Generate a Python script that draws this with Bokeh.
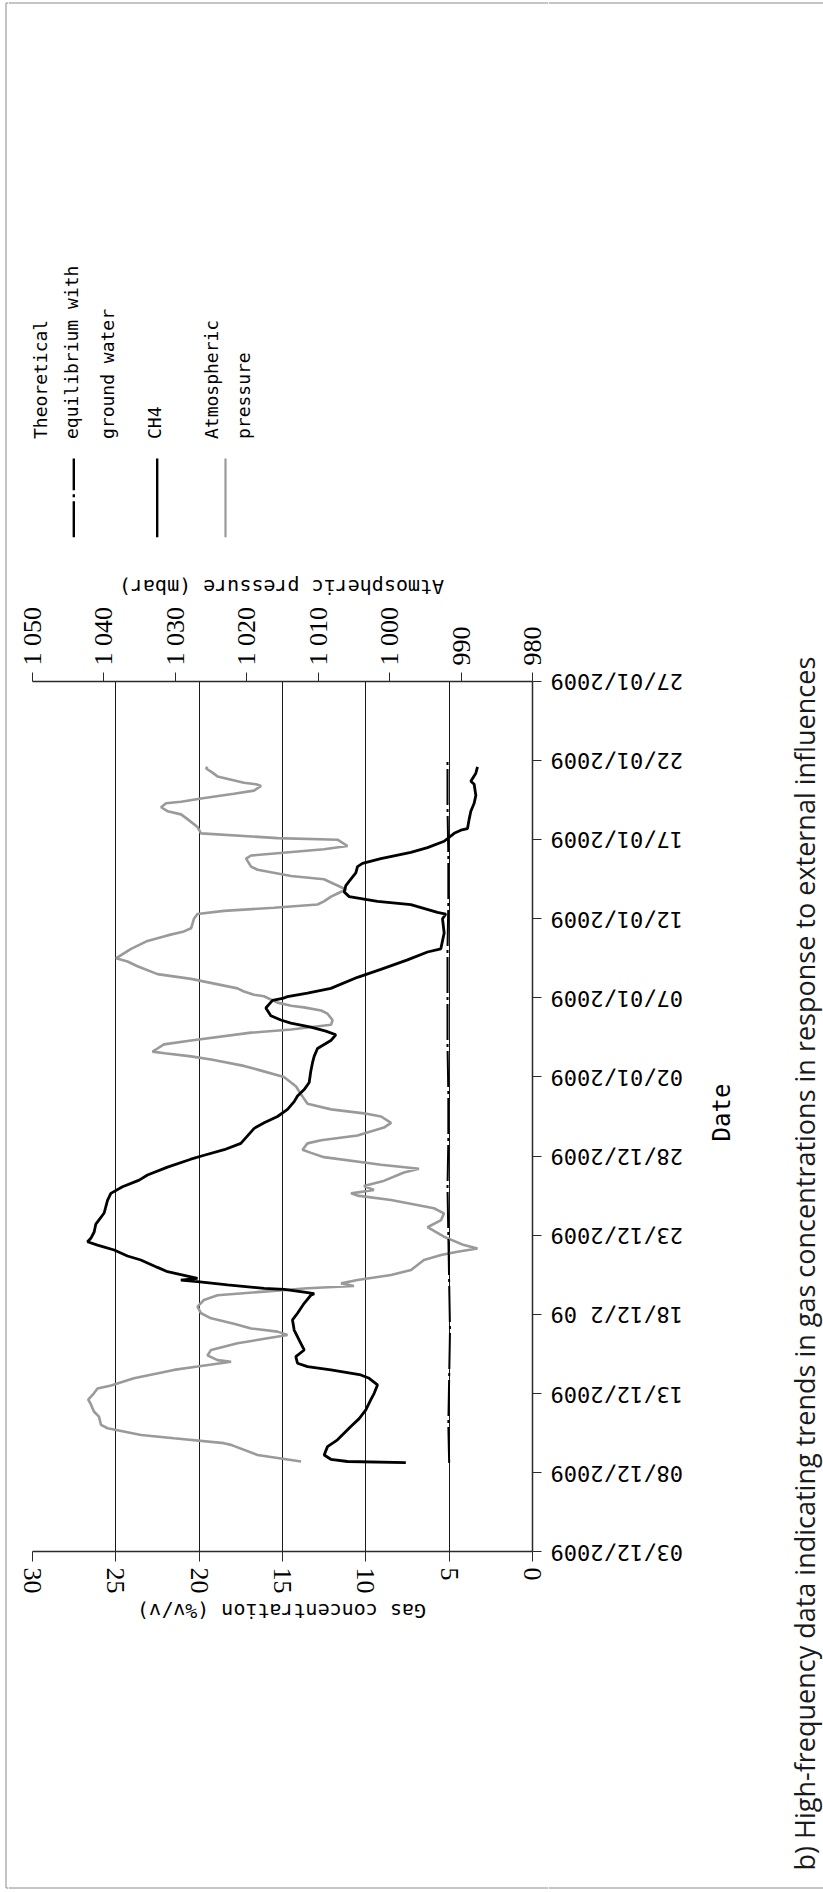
import math
from bokeh.plotting import figure
from bokeh.models import Range1d, LinearAxis, FixedTicker
from bokeh.layouts import row, column
from bokeh.core.properties import value
from bokeh.embed import file_html
from bokeh.resources import INLINE

# ---------------- data ----------------
date_tick_days = [0, 5, 10, 15, 20, 25, 30, 35, 40, 45, 50, 55]
date_tick_labels = ["03/12/2009", "08/12/2009", "13/12/2009", "18/12/2 09",
                    "23/12/2009", "28/12/2009", "02/01/2009", "07/01/2009",
                    "12/01/2009", "17/01/2009", "22/01/2009", "27/01/2009"]
gas_ticks = [0, 5, 10, 15, 20, 25, 30]
pressure_ticks = [980, 990, 1000, 1010, 1020, 1030, 1040, 1050]
pressure_tick_labels = ["980", "990", "1 000", "1 010", "1 020", "1 030", "1 040", "1 050"]

# days since 03/12/2009
ch4_day = [5.62, 5.69, 5.83, 6.1, 6.63, 7.06, 7.9, 8.4, 8.95, 9.6, 10.0, 10.53, 10.95, 11.16,
           11.48, 11.69, 11.9, 12.32, 12.74, 13.37, 14.0, 14.64, 15.06, 15.69, 16.2, 16.3,
           16.4, 16.57, 16.64, 16.85, 17.06, 17.16, 17.27, 17.69, 17.96, 18.43, 18.68, 19.06,
           19.37, 19.58, 19.8, 20.2, 20.7, 21.4, 22.2, 22.64, 23.06, 23.48, 23.8, 24.3, 24.8,
           25.05, 25.4, 25.8, 26.75, 27.1, 27.5, 27.95, 28.44, 28.8, 29.2, 29.65, 30.37, 30.9,
           31.3, 31.8, 32.3, 32.67, 32.9, 33.15, 33.4, 33.6, 33.87, 34.36, 34.84, 34.96,
           35.08, 35.3, 35.6, 36.3, 36.8, 37.4, 37.9, 38.1, 39.1, 40.0, 40.3, 40.4, 40.9,
           41.1, 41.4, 41.7, 42.1, 42.5, 42.9, 43.3, 43.5, 43.8, 44.2, 44.5, 44.9, 45.4,
           45.6, 45.7, 46.3, 46.8, 47.3, 47.8, 48.5, 48.7, 49.2, 49.6]
ch4_conc = [7.6, 11.1, 12.1, 12.5, 12.3, 11.7, 10.9, 10.4, 10.0, 9.7, 9.5, 9.3, 9.8, 10.3,
            12.1, 13.5, 14.1, 14.2, 13.7, 14.0, 14.3, 14.4, 14.1, 13.7, 13.3, 13.1,
            13.7, 14.9, 16.1, 18.3, 20.1, 21.1, 20.1, 21.9, 22.5, 23.5, 24.3, 25.1,
            26.1, 26.7, 26.5, 26.3, 26.2, 25.7, 25.5, 25.3, 24.6, 23.6, 23.1, 21.9, 20.5,
            19.7, 18.5, 17.5, 16.7, 16.1, 15.3, 14.7, 14.3, 14.1, 13.7, 13.4, 13.3, 13.2,
            13.1, 12.9, 12.1, 11.8, 12.4, 13.3, 14.5, 15.1, 15.7, 16.0, 15.6, 15.0,
            14.7, 13.5, 12.1, 10.5, 9.1, 7.5, 6.3, 5.5, 5.3, 5.4, 5.2, 5.7, 7.3,
            9.3, 11.0, 11.3, 11.2, 10.9, 10.6, 10.5, 10.2, 9.1, 7.3, 6.3, 5.3, 4.7,
            4.3, 3.9, 3.8, 3.7, 3.5, 3.4, 3.5, 3.7, 3.4, 3.3]

pres_day = [5.69, 5.79, 6.1, 6.74, 6.85, 7.16, 7.37, 7.79, 8.0, 8.53, 8.85, 9.37, 9.6, 10.0,
            10.3, 10.5, 10.95, 11.48, 11.69, 12.0, 12.1, 12.4, 12.74, 13.16, 13.48, 13.69,
            13.9, 14.1, 14.4, 14.74, 15.06, 15.48, 15.9, 16.2, 16.4, 16.64, 16.78, 16.95,
            17.16, 17.48, 17.8, 18.43, 18.74, 18.95, 19.16, 19.37, 19.9, 20.5, 20.95, 21.37,
            21.7, 22.22, 22.5, 22.64, 22.85, 23.1, 23.4, 23.96, 24.2, 24.45, 24.93, 25.2,
            25.4, 25.8, 26.0, 26.3, 26.8, 27.1, 27.5, 27.7, 27.95, 28.3, 28.9, 29.4, 29.65,
            30.0, 30.4, 30.7, 31.1, 31.3, 31.5, 31.6, 31.8, 32.06, 32.3, 32.8, 33.0, 33.3,
            33.6, 34.0, 34.2, 34.4, 34.5, 34.7, 35.1, 35.2, 35.4, 35.6, 36.2, 36.5, 37.0,
            37.3, 37.5, 37.7, 38.1, 38.6, 38.95, 39.2, 39.4, 40.0, 40.3, 40.5, 40.7, 40.9,
            41.1, 41.4, 41.6, 41.85, 42.5, 42.7, 43.1, 43.3, 43.8, 44.0, 44.4, 44.6, 45.0,
            45.1, 45.4, 45.8, 46.3, 46.6, 46.8, 47.05, 47.3, 47.4, 47.6, 47.9, 48.1, 48.4,
            48.5, 48.6, 49.0, 49.3, 49.5, 49.6]
pres_mbar = [1012.4, 1013.8, 1018.5, 1022.2, 1023.2, 1030.2, 1034.8, 1039.5, 1040.4, 1040.7,
             1041.4, 1041.9, 1042.2, 1041.4, 1040.9, 1039.0, 1035.8, 1030.2, 1026.9, 1022.2,
             1024.1, 1025.5, 1025.0, 1021.3, 1017.1, 1014.3, 1015.7, 1019.4, 1021.8, 1025.0,
             1026.4, 1026.9, 1026.0, 1024.1, 1018.5, 1011.5, 1005.0, 1006.8, 1004.5, 999.8,
             997.0, 995.2, 992.8, 990.5, 987.7, 989.6, 992.4, 994.7, 992.8, 992.4, 993.8,
             999.8, 1004.5, 1005.4, 1002.2, 1003.6, 1001.0, 998.0, 995.9, 1001.2, 1009.2,
             1011.0, 1012.2, 1011.5, 1009.6, 1004.5, 1000.8, 999.8, 1001.2, 1003.6, 1008.2,
             1011.5, 1012.4, 1013.1, 1013.8, 1014.8, 1018.0, 1020.4, 1025.0, 1027.8, 1031.5,
             1033.2, 1032.5, 1031.6, 1027.8, 1019.4, 1013.8, 1008.2, 1008.0, 1008.7, 1009.6,
             1012.0, 1013.8, 1015.7, 1017.6, 1019.0, 1020.4, 1021.3, 1027.8, 1032.5, 1035.3,
             1036.7, 1038.3, 1037.6, 1036.2, 1033.9, 1031.1, 1028.8, 1027.8, 1027.4, 1026.9,
             1023.2, 1016.2, 1010.1, 1009.2, 1008.2, 1007.3, 1006.1, 1009.2, 1013.8, 1018.5,
             1019.4, 1020.1, 1019.4, 1009.2, 1005.9, 1007.3, 1015.7, 1026.4, 1026.9, 1028.3,
             1029.2, 1031.1, 1032.0, 1031.3, 1029.2, 1026.4, 1021.8, 1019.0, 1018.0, 1018.7,
             1020.4, 1024.1, 1025.0, 1025.7, 1025.5]

eq_day = [5.6, 8.0, 11.0, 14.0, 17.0, 20.0, 23.0, 26.0, 29.0, 32.0, 35.0, 38.0, 41.0, 44.0, 47.0, 50.0]
eq_conc = [5.0, 5.05, 5.0, 4.95, 5.0, 5.05, 5.1, 5.05, 5.05, 5.1, 5.1, 5.1, 5.05, 5.05, 5.1, 5.1]

legend_labels = [["Theoretical", "equilibrium with", "ground water"], ["CH4"], ["Atmospheric", "pressure"]]
gas_axis_title = "Gas concentration (%v/v)"
pressure_axis_title = "Atmospheric pressure (mbar)"
date_axis_title = "Date"
caption = "b) High-frequency data indicating trends in gas concentrations in response to external influences"

# ---------------- layout (page pixels; the page has no margin) ----------------
TOTAL_W, TOTAL_H = 823, 1892
STRIP_W = 8
LEFT_W = 540
RIGHT_W = TOTAL_W - STRIP_W - LEFT_W          # 275
MAIN_ML, MAIN_MR, MAIN_MT, MAIN_MB = 24, 16, 80, 44
FRAME_W, FRAME_H = LEFT_W - MAIN_ML - MAIN_MR, 871
TOP_H = 601
MAIN_H = MAIN_MT + FRAME_H + MAIN_MB           # 995
BOT_H = TOTAL_H - TOP_H - MAIN_H               # 296

X_LEFT = STRIP_W                               # 8
X_RIGHT = X_LEFT + LEFT_W                      # 548
Y_MAIN = TOP_H
Y_BOT = Y_MAIN + MAIN_H
FRAME_T = Y_MAIN + MAIN_MT                     # 681
FRAME_B = FRAME_T + FRAME_H                    # 1552
D0, D1 = 0.0, 55.0


def day_at(yp):  # page y -> day, same scale as the main frame
    return D0 + (FRAME_B - yp) * (D1 - D0) / (FRAME_B - FRAME_T)


TECH = "DejaVu Sans Mono"
NARROW = "Liberation Sans Narrow"
AXC = "#2a2a2a"
BC = "#8a8a8a"
GRAY = "#9a9a9a"
BORDER_X, BORDER_T, BORDER_B = 5.5, 2.5, 1887.5


def blank(width, height, x_range, y_range):
    f = figure(width=width, height=height, x_range=x_range, y_range=y_range,
               output_backend="svg", toolbar_location=None,
               x_axis_location=None, y_axis_location=None,
               min_border_left=0, min_border_right=0, min_border_top=0, min_border_bottom=0)
    f.grid.visible = False
    f.outline_line_color = None
    f.background_fill_color = "white"
    f.border_fill_color = "white"
    return f


# ---- thin strip carrying the page frame's left edge ----
strip = blank(STRIP_W, TOTAL_H, Range1d(0, STRIP_W), Range1d(-TOTAL_H, 0))
strip.segment(x0=[BORDER_X, BORDER_X, BORDER_X], y0=[-BORDER_T, -BORDER_T, -BORDER_B],
              x1=[BORDER_X, STRIP_W, STRIP_W], y1=[-BORDER_B, -BORDER_T, -BORDER_B],
              line_color=BC, line_width=1)

# ---- top panel: legend + pressure axis title ----
top = blank(LEFT_W, TOP_H, Range1d(X_LEFT, X_RIGHT), Range1d(-Y_MAIN, 0))
top.segment(x0=[X_LEFT], y0=[-BORDER_T], x1=[X_RIGHT], y1=[-BORDER_T], line_color=BC, line_width=1)
leg_mid_x = [[39.7, 70.7, 106.7], [154.2], [211.2, 243.2]]
leg_line_x = [73.3, 156.7, 225]
leg_styles = [dict(line_color="black", line_width=2.4, line_dash="36 4 3 4"),
              dict(line_color="black", line_width=2.4),
              dict(line_color=GRAY, line_width=2.2)]
for lines, mxs, lx, st in zip(legend_labels, leg_mid_x, leg_line_x, leg_styles):
    top.text(x=mxs, y=[-438.5] * len(mxs), text=lines, angle=math.pi / 2,
             text_align="left", text_baseline="middle",
             text_font=value(TECH), text_font_size="18px", text_color="black")
    top.segment(x0=[lx], y0=[-536.7], x1=[lx], y1=[-458], **st)
top.text(x=[281], y=[-586], text=[pressure_axis_title], angle=math.pi,
         text_align="center", text_baseline="middle",
         text_font=value(TECH), text_font_size="20px", text_color="black")

# ---- main chart ----
p = figure(width=LEFT_W, height=MAIN_H, x_range=Range1d(30, 0), y_range=Range1d(D0, D1),
           output_backend="svg", toolbar_location=None,
           x_axis_location="below", y_axis_location="right",
           min_border_left=MAIN_ML, min_border_right=MAIN_MR,
           min_border_top=MAIN_MT, min_border_bottom=MAIN_MB)
p.outline_line_color = None
p.background_fill_color = "white"
p.border_fill_color = "white"

xa = p.xaxis[0]
xa.ticker = FixedTicker(ticks=gas_ticks)
xa.major_label_orientation = "vertical"
xa.major_label_text_font = NARROW
xa.major_label_text_font_size = "26px"
xa.major_label_text_color = "black"
xa.major_label_standoff = 6
xa.major_tick_out = 10
xa.major_tick_in = 0
xa.minor_tick_line_color = None
xa.axis_line_color = AXC
xa.axis_line_width = 1.5
xa.major_tick_line_color = AXC

p.xgrid.ticker = FixedTicker(ticks=gas_ticks)
p.xgrid.grid_line_color = "#1a1a1a"
p.xgrid.grid_line_width = 1
p.ygrid.visible = False

ya = p.yaxis[0]
ya.ticker = FixedTicker(ticks=date_tick_days)
ya.major_label_overrides = {d: "" for d in date_tick_days}
ya.major_label_standoff = 0
ya.major_tick_out = 9
ya.major_tick_in = 0
ya.minor_tick_line_color = None
ya.axis_line_color = AXC
ya.axis_line_width = 1.5
ya.major_tick_line_color = AXC

p.extra_x_ranges = {"pres": Range1d(1050, 980)}
pa = LinearAxis(x_range_name="pres", ticker=FixedTicker(ticks=pressure_ticks))
pa.major_label_overrides = {v: s for v, s in zip(pressure_ticks, pressure_tick_labels)}
pa.major_label_orientation = "vertical"
pa.major_label_text_font = NARROW
pa.major_label_text_font_size = "26px"
pa.major_label_text_color = "black"
pa.major_label_standoff = 7
pa.major_tick_out = 9
pa.major_tick_in = 0
pa.minor_tick_line_color = None
pa.axis_line_color = AXC
pa.axis_line_width = 1.5
pa.major_tick_line_color = AXC
p.add_layout(pa, "above")

p.line(x=pres_mbar, y=pres_day, x_range_name="pres", line_color=GRAY, line_width=2.6)
p.line(x=eq_conc, y=eq_day, line_color="black", line_width=2, line_dash="36 4 3 4")
p.line(x=ch4_conc, y=ch4_day, line_color="black", line_width=2.8)

# ---- bottom panel: gas axis title ----
bot = blank(LEFT_W, BOT_H, Range1d(X_LEFT, X_RIGHT), Range1d(-TOTAL_H, -Y_BOT))
bot.text(x=[281], y=[-1610], text=[gas_axis_title], angle=math.pi,
         text_align="center", text_baseline="middle",
         text_font=value(TECH), text_font_size="20px", text_color="black")
bot.segment(x0=[X_LEFT], y0=[-BORDER_B], x1=[X_RIGHT], y1=[-BORDER_B], line_color=BC, line_width=1)

# figures stacked in one column must not have their frames aligned to the main chart
_aligned_off = True
for f in (top, p, bot):
    if "frame_align" in f.properties():
        f.frame_align = False
    else:
        _aligned_off = False
if not _aligned_off:
    for f in (top, bot):
        f.min_border_left, f.min_border_right = MAIN_ML, MAIN_MR
        f.x_range.start, f.x_range.end = X_LEFT + MAIN_ML, X_RIGHT - MAIN_MR

# ---- right panel: date tick labels (same day scale), date title, caption ----
right = blank(RIGHT_W, TOTAL_H, Range1d(X_RIGHT, TOTAL_W), Range1d(day_at(TOTAL_H), day_at(0)))
right.text(x=[550] * len(date_tick_days), y=date_tick_days, text=date_tick_labels, angle=math.pi,
           text_align="right", text_baseline="middle",
           text_font=value(TECH), text_font_size="22px", text_color="black")
right.text(x=[721.6], y=[day_at(1112)], text=[date_axis_title], angle=math.pi / 2,
           text_align="center", text_baseline="middle",
           text_font=value(TECH), text_font_size="24px", text_color="black")
right.text(x=[804], y=[day_at(1870)], text=[caption], angle=math.pi / 2,
           text_align="left", text_baseline="middle",
           text_font=value("Open Sans"), text_font_size="27px", text_color="#1a1a1a")
right.segment(x0=[X_RIGHT, X_RIGHT], y0=[day_at(BORDER_T), day_at(BORDER_B)],
              x1=[TOTAL_W, TOTAL_W], y1=[day_at(BORDER_T), day_at(BORDER_B)],
              line_color=BC, line_width=1)

layout = row(strip, column(top, p, bot), right)
open("out.html", "w").write(file_html(layout, INLINE))
